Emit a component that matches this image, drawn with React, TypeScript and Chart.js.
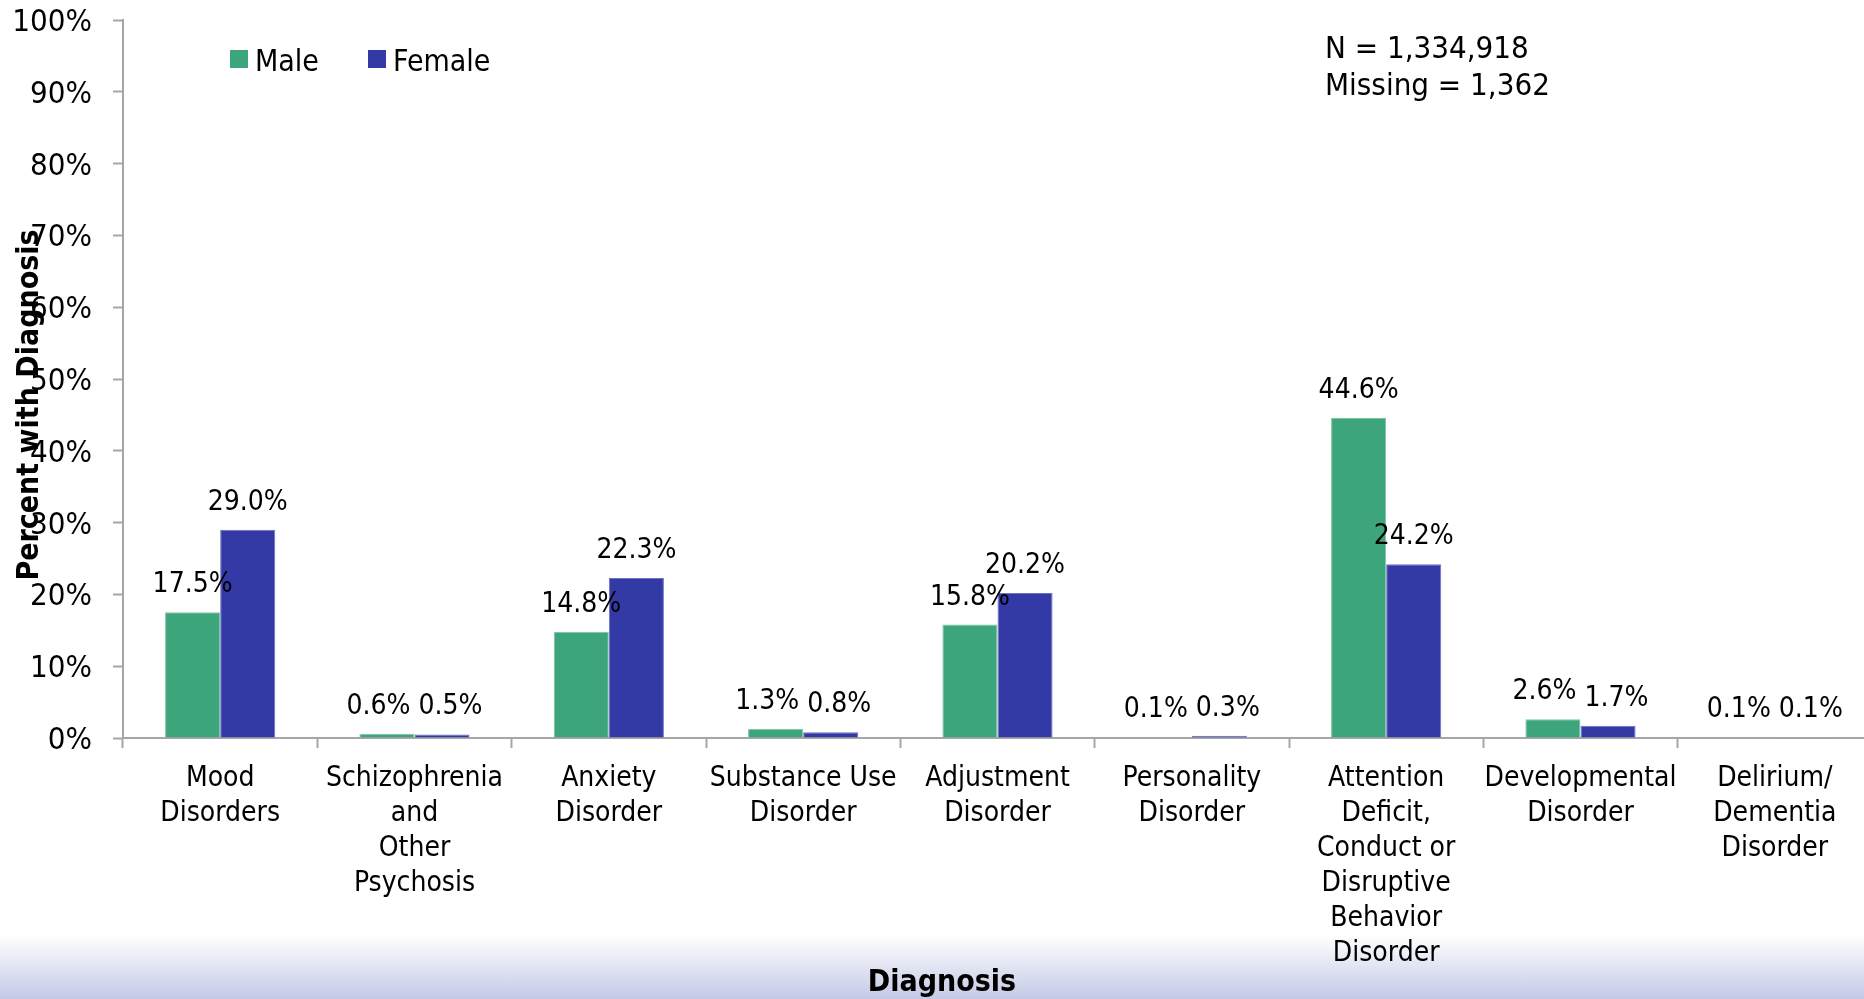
import { useEffect, useRef } from "react";
import { Chart, registerables } from "chart.js";

Chart.register(...registerables);

// Diagnosis categories (multi-line tick labels)
const categories: string[][] = [
  ["Mood", "Disorders"],
  ["Schizophrenia", "and", "Other", "Psychosis"],
  ["Anxiety", "Disorder"],
  ["Substance Use", "Disorder"],
  ["Adjustment", "Disorder"],
  ["Personality", "Disorder"],
  ["Attention", "Deficit,", "Conduct or", "Disruptive", "Behavior", "Disorder"],
  ["Developmental", "Disorder"],
  ["Delirium/", "Dementia", "Disorder"],
];

// Percent with diagnosis, by sex
const maleValues = [17.5, 0.6, 14.8, 1.3, 15.8, 0.1, 44.6, 2.6, 0.1];
const femaleValues = [29.0, 0.5, 22.3, 0.8, 20.2, 0.3, 24.2, 1.7, 0.1];

const seriesNames = ["Male", "Female"];
const yTicks = [0, 10, 20, 30, 40, 50, 60, 70, 80, 90, 100];
const sampleNote = ["N = 1,334,918", "Missing = 1,362"];
const xTitle = "Diagnosis";
const yTitle = "Percent with Diagnosis";

const FONT = "'DejaVu Sans Condensed', 'DejaVu Sans', sans-serif";
const GREEN = "#3DA57B";
const GREEN_EDGE = "#7DC4A3";
const BLUE = "#333AA6";
const BLUE_EDGE = "#6E72C4";
const AXIS = "#A6A6A6";

const fmt = (v: number) => v.toFixed(1) + "%";

// Draws value labels, legend, axis titles and the sample-size note
const overlayPlugin = {
  id: "overlay",
  afterDraw(chart: any) {
    const ctx: CanvasRenderingContext2D = chart.ctx;
    ctx.save();
    ctx.fillStyle = "#000";

    // value labels above bars, nudged apart when they would collide
    ctx.font = `28px ${FONT}`;
    ctx.textAlign = "center";
    ctx.textBaseline = "alphabetic";
    const m0 = chart.getDatasetMeta(0);
    const m1 = chart.getDatasetMeta(1);
    const d0 = chart.data.datasets[0].data as number[];
    const d1 = chart.data.datasets[1].data as number[];
    for (let i = 0; i < d0.length; i++) {
      const a = m0.data[i];
      const b = m1.data[i];
      const ta = fmt(d0[i]);
      const tb = fmt(d1[i]);
      const wa = ctx.measureText(ta).width;
      const wb = ctx.measureText(tb).width;
      let xa = a.x;
      let xb = b.x;
      const ya = a.y - 20;
      const yb = b.y - 20;
      if (Math.abs(ya - yb) < 30) {
        const need = (wa + wb) / 2 + 8 - (xb - xa);
        if (need > 0) {
          xa -= need / 2;
          xb += need / 2;
        }
      }
      ctx.fillText(ta, xa, ya);
      ctx.fillText(tb, xb, yb);
    }

    // legend
    ctx.font = `30px ${FONT}`;
    ctx.textAlign = "left";
    ctx.textBaseline = "middle";
    const legendX = [230, 368];
    chart.data.datasets.forEach((ds: any, k: number) => {
      ctx.fillStyle = ds.backgroundColor;
      ctx.fillRect(legendX[k], 50, 18, 18);
      ctx.fillStyle = "#000";
      ctx.fillText(ds.label, legendX[k] + 25, 63);
    });

    // sample size note
    ctx.font = `31px ${FONT}`;
    ctx.textBaseline = "alphabetic";
    ctx.fillText(sampleNote[0], 1325, 58);
    ctx.fillText(sampleNote[1], 1325, 95);

    // x axis title
    ctx.font = `bold 30px ${FONT}`;
    ctx.textAlign = "center";
    ctx.fillText(xTitle, 942, 991);

    // y axis title
    ctx.translate(30, 405);
    ctx.rotate(-Math.PI / 2);
    ctx.textBaseline = "middle";
    ctx.fillText(yTitle, 0, 0);

    ctx.restore();
  },
};

export default function App() {
  const canvasRef = useRef<HTMLCanvasElement | null>(null);

  useEffect(() => {
    if (!canvasRef.current) return;
    const chart = new Chart(canvasRef.current, {
      type: "bar",
      data: {
        labels: categories,
        datasets: [
          {
            label: seriesNames[0],
            data: maleValues,
            backgroundColor: GREEN,
            borderColor: GREEN_EDGE,
            borderWidth: 1,
            categoryPercentage: 0.567,
            barPercentage: 1.0,
          },
          {
            label: seriesNames[1],
            data: femaleValues,
            backgroundColor: BLUE,
            borderColor: BLUE_EDGE,
            borderWidth: 1,
            categoryPercentage: 0.567,
            barPercentage: 1.0,
          },
        ],
      },
      options: {
        responsive: false,
        animation: false,
        layout: { padding: { top: 20, right: 8, left: 0, bottom: 0 } },
        plugins: {
          legend: { display: false },
          tooltip: { enabled: false },
          title: { display: false },
        },
        scales: {
          x: {
            grid: {
              drawOnChartArea: false,
              drawTicks: true,
              tickLength: 10,
              tickColor: AXIS,
              tickWidth: 2,
              offset: true,
            },
            border: { color: AXIS, width: 2 },
            ticks: {
              color: "#000",
              font: { family: FONT, size: 28, lineHeight: 1.25 },
              padding: 13,
              maxRotation: 0,
              minRotation: 0,
              autoSkip: false,
            },
            afterFit(s: any) {
              s.height = 261;
            },
          },
          y: {
            min: 0,
            max: 100,
            afterBuildTicks(s: any) {
              s.ticks = yTicks.map((v) => ({ value: v }));
            },
            ticks: {
              color: "#000",
              font: { family: FONT, size: 31 },
              padding: 21,
              labelOffset: 3,
              callback: (v: any) => v + "%",
            },
            grid: {
              drawOnChartArea: false,
              tickLength: 10,
              tickColor: AXIS,
              tickWidth: 2,
            },
            border: { color: AXIS, width: 2 },
            afterFit(s: any) {
              s.width = 123;
              s.paddingTop = 0;
              s.paddingBottom = 0;
            },
          },
        },
      },
      plugins: [overlayPlugin],
    });
    return () => chart.destroy();
  }, []);

  return (
    <div
      style={{
        position: "fixed",
        left: 0,
        top: 0,
        width: 1864,
        height: 999,
        overflow: "hidden",
        background:
          "linear-gradient(to bottom, #ffffff 0px, #ffffff 935px, #c4c9e6 999px)",
      }}
    >
      <canvas
        ref={canvasRef}
        width={1880}
        height={999}
        style={{ position: "absolute", left: 0, top: 0, width: 1880, height: 999 }}
      />
    </div>
  );
}
